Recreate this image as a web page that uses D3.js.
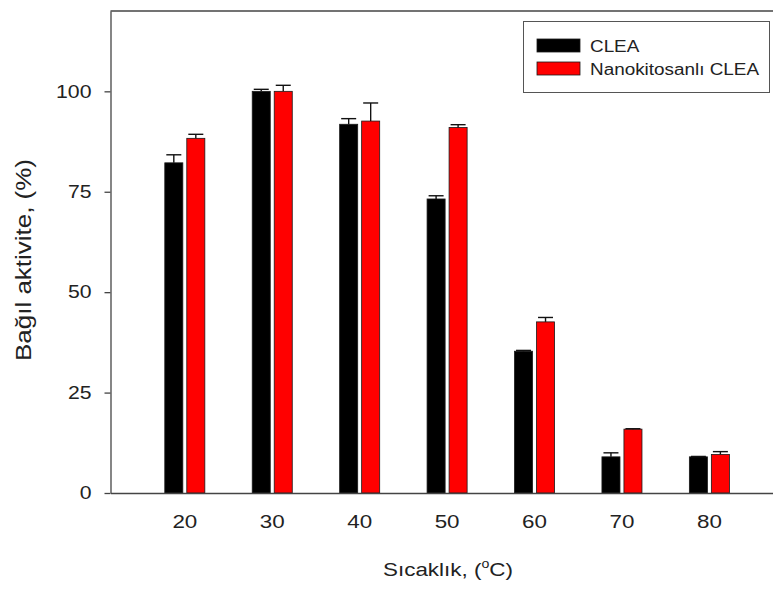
<!DOCTYPE html>
<html><head><meta charset="utf-8">
<script src="https://cdn.jsdelivr.net/npm/d3@7"></script>
<style>
body{margin:0;background:#fff}
svg{display:block}
text{font-family:"Liberation Sans",Arial,sans-serif;fill:#222}
</style>
</head><body>
<svg id="c" width="773" height="590"></svg>
<script>
const categories = ["20","30","40","50","60","70","80"];
const seriesNames = ["CLEA","Nanokitosanlı CLEA"];
const cleaValues = [82.2,100,91.8,73.2,35.3,9.0,9.0];
const cleaErrors = [2.0,0.5,1.4,0.8,0.2,1.0,0.1];
const nanoValues = [88.3,100,92.6,91.0,42.6,15.9,9.6];
const nanoErrors = [1.0,1.5,4.5,0.7,1.1,0.1,0.7];
const yTicks = [0,25,50,75,100];
const seriesColors = ["#000000","#ff0000"];
const xTitle = "Sıcaklık, (";
const yTitle = "Bağıl aktivite, (%)";

const K = 1.18; // horizontal text stretch seen in the reference
const svg = d3.select("#c");
const pLeft = 110.5, pRight = 783.7, pTop = 11, pBottom = 493;

const x = d3.scaleBand().domain(categories).range([pLeft, pRight])
  .paddingInner(0.542).paddingOuter(0.621);
const xs = d3.scaleBand().domain(seriesNames).range([0, x.bandwidth()]).paddingInner(0.18);
const y = d3.scaleLinear().domain([0, 120]).range([pBottom, pTop]);
const color = d3.scaleOrdinal().domain(seriesNames).range(seriesColors);

const rows = categories.map((c, i) => ({
  cat: c,
  items: [
    {s: seriesNames[0], v: cleaValues[i], e: cleaErrors[i]},
    {s: seriesNames[1], v: nanoValues[i], e: nanoErrors[i]}
  ]
}));

// bars
const groups = svg.append("g").selectAll("g").data(rows).join("g")
  .attr("transform", d => `translate(${x(d.cat)},0)`);
groups.selectAll("rect").data(d => d.items).join("rect")
  .attr("x", d => xs(d.s))
  .attr("width", xs.bandwidth())
  .attr("y", d => y(d.v))
  .attr("height", d => y(0) - y(d.v))
  .attr("fill", d => color(d.s))
  .attr("stroke", "#1a1a1a")
  .attr("stroke-width", 0.8);

// error bars (upper only)
const eb = groups.selectAll("g.err").data(d => d.items).join("g").attr("class", "err")
  .attr("stroke", "#111").attr("stroke-width", 1.4);
eb.append("line")
  .attr("x1", d => xs(d.s) + xs.bandwidth() / 2)
  .attr("x2", d => xs(d.s) + xs.bandwidth() / 2)
  .attr("y1", d => y(d.v))
  .attr("y2", d => y(d.v + d.e));
eb.append("line")
  .attr("x1", d => xs(d.s) + xs.bandwidth() / 2 - 7.5)
  .attr("x2", d => xs(d.s) + xs.bandwidth() / 2 + 7.5)
  .attr("y1", d => y(d.v + d.e))
  .attr("y2", d => y(d.v + d.e));

// axes
const gy = svg.append("g").attr("transform", `translate(${pLeft},0)`)
  .call(d3.axisLeft(y).tickValues(yTicks).tickSize(6).tickSizeOuter(0).tickPadding(13));
const gx = svg.append("g").attr("transform", `translate(0,${pBottom})`)
  .call(d3.axisBottom(x).tickSize(0).tickSizeOuter(0));
svg.append("line").attr("x1", pLeft).attr("x2", pRight).attr("y1", y(120)).attr("y2", y(120))
  .attr("stroke", "#444").attr("stroke-width", 1.3);

[gx, gy].forEach(g => {
  g.select(".domain").attr("stroke", "#444").attr("stroke-width", 1.3);
  g.selectAll(".tick line").attr("stroke", "#444").attr("stroke-width", 1.3);
  g.selectAll("text").attr("fill", "#222").classed("st", true);
  g.attr("font-family", null);
});
gy.selectAll("text").attr("font-size", 18);
gx.selectAll("text").attr("font-size", 19).attr("y", 35).attr("dy", 0);

// axis titles
const xt = svg.append("text").attr("class", "st")
  .attr("x", 383).attr("y", 576).attr("font-size", 19).attr("text-anchor", "start");
xt.append("tspan").text(xTitle);
xt.append("tspan").attr("font-size", 12).attr("dy", -8).text("o");
xt.append("tspan").attr("dy", 8).text("C)");

svg.append("text").attr("class", "st")
  .attr("transform", "translate(31,260) rotate(-90)")
  .attr("text-anchor", "middle").attr("font-size", 22).text(yTitle);

// legend
const lg = svg.append("g");
lg.append("rect").attr("x", 523.5).attr("y", 21.5).attr("width", 246).attr("height", 71)
  .attr("fill", "#fff").attr("stroke", "#555").attr("stroke-width", 1);
seriesNames.forEach((s, i) => {
  lg.append("rect").attr("x", 537).attr("y", 39 + i * 23).attr("width", 43).attr("height", 13)
    .attr("fill", color(s)).attr("stroke", "#1a1a1a").attr("stroke-width", 0.8);
  lg.append("text").attr("class", "st").attr("x", 590).attr("y", 52 + i * 23)
    .attr("font-size", 16).text(s);
});

// stretch text horizontally to match reference glyph widths
svg.selectAll("text.st").each(function() {
  const w = this.getComputedTextLength();
  this.setAttribute("textLength", (w * K).toFixed(1));
  this.setAttribute("lengthAdjust", "spacingAndGlyphs");
});
</script>
</body></html>
